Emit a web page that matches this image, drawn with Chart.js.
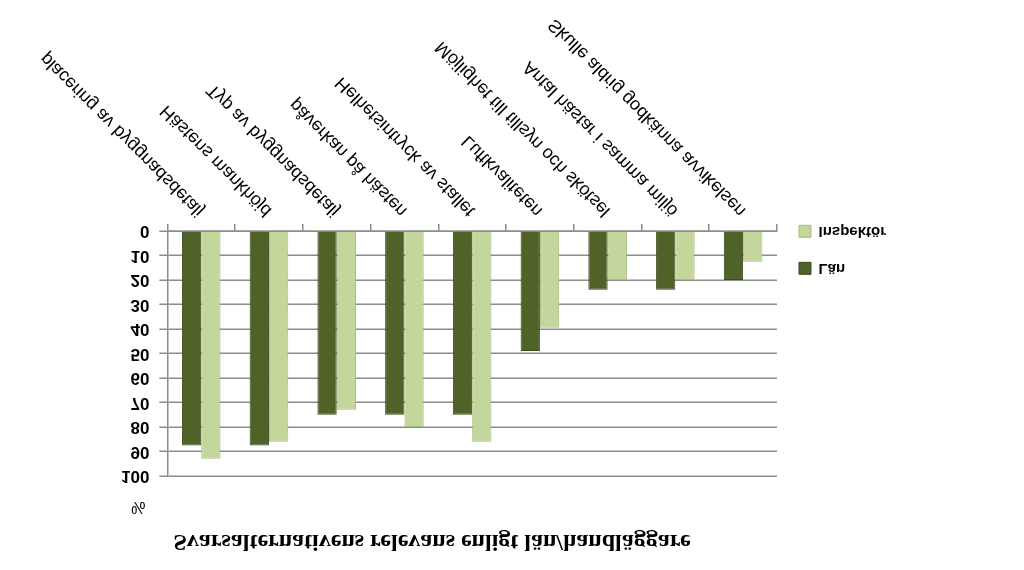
<!DOCTYPE html>
<html>
<head>
<meta charset="utf-8">
<script src="https://cdn.jsdelivr.net/npm/chart.js@4"></script>
<style>
  body { margin: 0; background: #fff; }
  #wrap { width: 1024px; height: 570px; }
  /* the reference picture is mirrored top-to-bottom */
  #myChart { transform: scaleY(-1); }
</style>
</head>
<body>
<div id="wrap"><canvas id="myChart" width="1024" height="570"></canvas></div>
<script>
  const labels = [
    'placering av byggnadsdetalj',
    'Hästens mankhöjd',
    'Typ av byggnadsdetalj',
    'påverkan på hästen',
    'Helhetsintryck av stallet',
    'Luftkvaliteten',
    'Möjlighet till tillsyn och skötsel',
    'Antal hästar i samma miljö',
    'Skulle aldrig godkänna avvikelsen',
  ];

  const lan = [87.5, 87.5, 75, 75, 75, 49, 24, 24, 20];
  const inspektor = [93, 86, 73, 80, 86, 39.5, 20, 20, 12.5];

  const yTicks = [0, 10, 20, 30, 40, 50, 60, 70, 80, 90, 100];
  const chartTitle = 'Svarsalternativens relevans enligt län/handläggare';
  const unitLabel = '%';

  const extraText = {
    id: 'extraText',
    afterDraw(chart) {
      const ctx = chart.ctx;
      const area = chart.chartArea;
      ctx.save();
      ctx.fillStyle = '#000';
      ctx.textAlign = 'center';
      ctx.textBaseline = 'middle';
      ctx.font = 'bold 24px "Liberation Serif"';
      ctx.fillText(chartTitle, 432, 29);
      ctx.font = '16px "Liberation Sans"';
      ctx.fillText(unitLabel, area.left - 29, area.top - 30);
      ctx.restore();
    }
  };

  const data = {
    labels: labels,
    datasets: [{
      label: 'Län',
      backgroundColor: '#4f6228',
      borderColor: '#3a4a1c',
      borderWidth: 1,
      data: lan,
    },
    {
      label: 'Inspektör',
      backgroundColor: '#c3d69b',
      borderColor: '#a9bd80',
      borderWidth: 1,
      data: inspektor,
    }]
  };

  const config = {
    type: 'bar',
    data: data,
    plugins: [extraText],
    options: {
      responsive: false,
      animation: false,
      categoryPercentage: 0.57,
      barPercentage: 1,
      layout: { padding: { top: 94, left: 111, right: 128, bottom: 11 } },
      plugins: {
        title: { display: false },
        tooltip: { enabled: false },
        legend: {
          position: 'right',
          align: 'start',
          // empty title only used to push the items down
          title: { display: true, text: ' ', font: { size: 1 }, padding: { top: 177, bottom: 0 } },
          labels: {
            boxWidth: 12,
            boxHeight: 12,
            padding: 22,
            color: '#000',
            font: { family: 'Liberation Sans', size: 15, weight: 'bold' }
          }
        }
      },
      scales: {
        x: {
          grid: { drawOnChartArea: false, color: '#8c8c8c', lineWidth: 1.5, tickLength: 7 },
          border: { color: '#8c8c8c', width: 1.5 },
          ticks: {
            color: '#000',
            minRotation: 45,
            maxRotation: 45,
            autoSkip: false,
            font: { family: 'Liberation Sans', size: 18 }
          }
        },
        y: {
          min: 0,
          max: 100,
          afterBuildTicks(scale) {
            scale.ticks = yTicks.map(v => ({ value: v }));
          },
          grid: { color: '#8c8c8c', lineWidth: 1.5, tickLength: 8 },
          border: { color: '#8c8c8c', width: 1.5 },
          ticks: {
            color: '#000',
            padding: 10,
            font: { family: 'Liberation Sans', size: 17, weight: 'bold' }
          }
        }
      }
    }
  };

  const myChart = new Chart(
    document.getElementById('myChart'),
    config
  );
</script>
</body>
</html>
